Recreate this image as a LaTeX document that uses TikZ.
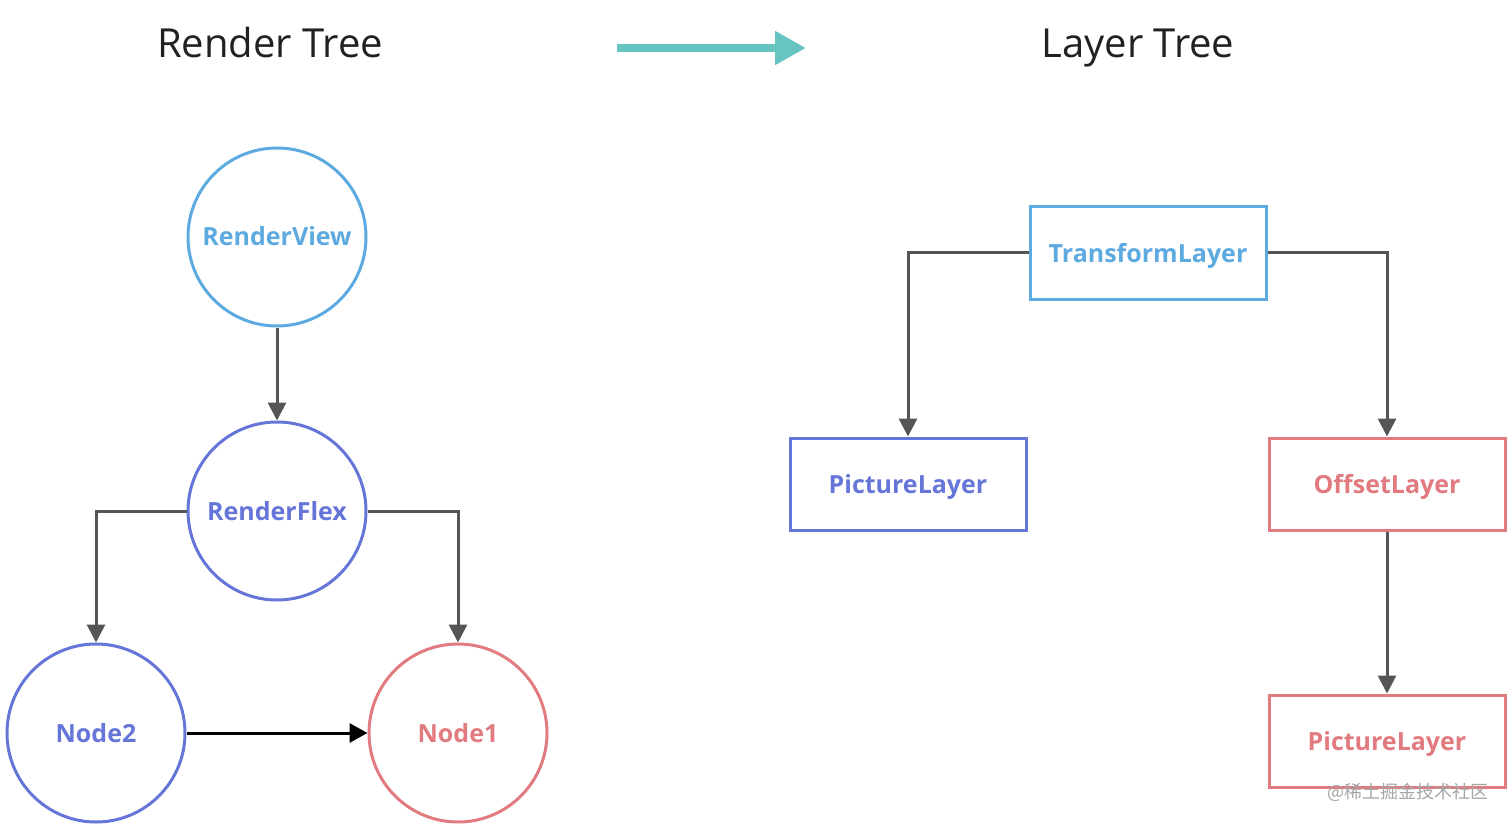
\documentclass[tikz,border=0pt]{standalone}
\usepackage{fontspec}
\setmainfont{Open Sans}
\newfontfamily\cjkfont{Noto Sans CJK SC}
\usetikzlibrary{arrows.meta}
\definecolor{cLB}{RGB}{93,170,224}
\definecolor{cBP}{RGB}{102,118,216}
\definecolor{cRD}{RGB}{225,123,128}
\definecolor{cTL}{RGB}{102,197,192}
\definecolor{cGR}{RGB}{85,85,85}
\definecolor{cWM}{RGB}{165,165,165}
\tikzset{
  circ/.style={circle, draw=#1, text=#1, line width=3pt, minimum size=178pt, inner sep=0pt, text height=18pt, text depth=0pt, font=\fontsize{25}{30}\selectfont\bfseries},
  rbox/.style={rectangle, draw=#1, text=#1, line width=3pt, minimum width=236pt, minimum height=92pt, inner sep=0pt, text height=18pt, text depth=0pt, font=\fontsize{25}{30}\selectfont\bfseries},
  conn/.style={draw=cGR, line width=3pt, -{Triangle[width=18pt,length=18pt]}},
  title/.style={font=\fontsize{40}{46}\selectfont, text=black!87, text height=29pt, text depth=0pt, inner sep=0pt}
}
\begin{document}
\begin{tikzpicture}[x=1pt,y=-1pt]
\useasboundingbox (0,0) rectangle (1512,826);
% titles
\node[title] (t1) at (270,43) {Render Tree};
\node[title] (t2) at (1138,43) {Layer Tree};
\coordinate (ta) at (617,48);
\coordinate (tb) at (806,48);
\draw[cTL, line width=8pt, -{Triangle[width=32pt,length=31pt]}] (ta) -- (tb);
% render tree
\node[circ=cLB] (rv) at (277,237) {RenderView};
\node[circ=cBP] (rf) at (277,511) {RenderFlex};
\node[circ=cBP] (n2) at (96,733) {Node2};
\node[circ=cRD] (n1) at (458,733) {Node1};
\draw[conn] (rv) -- (rf);
\draw[conn] (rf.west) -| (n2.north);
\draw[conn] (rf.east) -| (n1.north);
\draw[black, line width=3pt, -{Triangle[width=19pt,length=18pt]}] (n2.east) -- (n1.west);
% layer tree
\node[rbox=cLB] (tl) at (1148,253) {TransformLayer};
\node[rbox=cBP] (pl1) at (908,484) {PictureLayer};
\node[rbox=cRD] (ol) at (1387,484) {OffsetLayer};
\node[rbox=cRD] (pl2) at (1387,741) {PictureLayer};
\draw[conn] (tl.west) -| (pl1.north);
\draw[conn] (tl.east) -| (ol.north);
\draw[conn] (ol) -- (pl2);
\node[text=cWM, font=\cjkfont\fontsize{18}{20}\selectfont] (wm) at (1408,792) {@稀土掘金技术社区};
\end{tikzpicture}
\end{document}
